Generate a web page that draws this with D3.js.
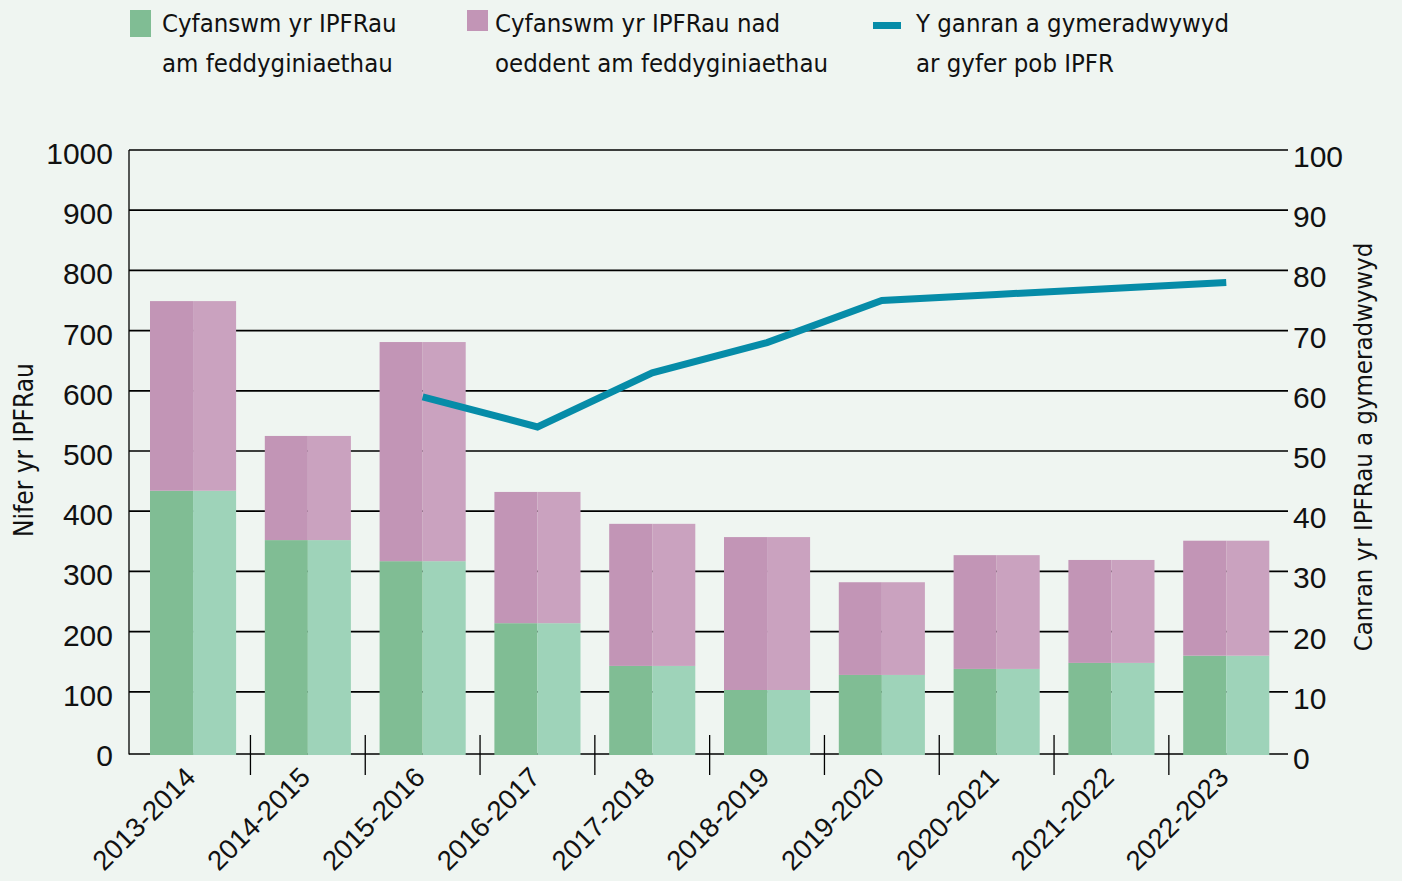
<!DOCTYPE html>
<html>
<head>
<meta charset="utf-8">
<script src="https://cdn.jsdelivr.net/npm/d3@7"></script>
<style>
  html, body { margin: 0; padding: 0; background: #eff5f1; }
  svg { display: block; }
  .txt { font-family: "DejaVu Sans Condensed", "DejaVu Sans", sans-serif; font-stretch: condensed; fill: #111; }
  .num { font-family: "Liberation Sans", Arial, sans-serif; fill: #111; }
</style>
</head>
<body>
<svg id="chart" width="1402" height="881"></svg>
<script>
const categories = ["2013-2014","2014-2015","2015-2016","2016-2017","2017-2018","2018-2019","2019-2020","2020-2021","2021-2022","2022-2023"];
const medicineValues = [434, 352, 317, 214, 143, 103, 128, 138, 148, 160];
const nonMedicineValues = [315, 173, 364, 218, 236, 254, 154, 189, 171, 191];
const approvedPct = [null, null, 59, 54, 63, 68, 75, 76, 77, 78];
const leftTicks = [0,100,200,300,400,500,600,700,800,900,1000];
const rightTicks = [0,10,20,30,40,50,60,70,80,90,100];
const legendLabels = [
  ["Cyfanswm yr IPFRau", "am feddyginiaethau"],
  ["Cyfanswm yr IPFRau nad", "oeddent am feddyginiaethau"],
  ["Y ganran a gymeradwywyd", "ar gyfer pob IPFR"]
];
const leftTitle = "Nifer yr IPFRau";
const rightTitle = "Canran yr IPFRau a gymeradwywyd";

const colors = {
  bg: "#eff5f1",
  greenDark: "#80bd94",
  greenLight: "#9ed3b9",
  pinkDark: "#c295b6",
  pinkLight: "#caa2bf",
  line: "#068ca8"
};

const svg = d3.select("#chart");
svg.append("rect").attr("width", 1402).attr("height", 881).attr("fill", colors.bg);

const plotLeft = 129, plotRight = 1288;
const x = d3.scaleBand().domain(categories).range([135.65, 1283.65]).paddingInner(0.25).paddingOuter(0.125);
const y = d3.scaleLinear().domain([0, 1000]).range([752, 150]);
const yR = d3.scaleLinear().domain([0, 100]).range([752, 150]);
const bw = x.bandwidth();

// gridlines
svg.append("g").selectAll("line").data(leftTicks.filter(d => d > 0)).join("line")
  .attr("x1", plotLeft).attr("x2", plotRight)
  .attr("y1", d => y(d)).attr("y2", d => y(d))
  .attr("stroke", "#000").attr("stroke-width", 1.7);

// baseline
svg.append("line").attr("x1", plotLeft).attr("x2", plotRight)
  .attr("y1", y(0) + 2).attr("y2", y(0) + 2)
  .attr("stroke", "#000").attr("stroke-width", 1.5);

// left axis line
svg.append("line").attr("x1", plotLeft).attr("x2", plotLeft)
  .attr("y1", y(1000)).attr("y2", y(0) + 2.5)
  .attr("stroke", "#000").attr("stroke-width", 1.3);

// bars
const rows = categories.map((c, i) => ({c, g: medicineValues[i], p: nonMedicineValues[i]}));
const bars = svg.append("g");
rows.forEach(r => {
  const x0 = x(r.c);
  const yb = y(0) + 3;
  const yg = y(r.g);
  const yt = y(r.g + r.p);
  bars.append("rect").attr("x", x0).attr("width", bw / 2).attr("y", yg).attr("height", yb - yg).attr("fill", colors.greenDark);
  bars.append("rect").attr("x", x0 + bw / 2).attr("width", bw / 2).attr("y", yg).attr("height", yb - yg).attr("fill", colors.greenLight);
  bars.append("rect").attr("x", x0).attr("width", bw / 2).attr("y", yt).attr("height", yg - yt).attr("fill", colors.pinkDark);
  bars.append("rect").attr("x", x0 + bw / 2).attr("width", bw / 2).attr("y", yt).attr("height", yg - yt).attr("fill", colors.pinkLight);
});

// x ticks between bands
const step = x.step();
const boundaries = categories.slice(1).map(c => x(c) - (step - bw) / 2);
svg.append("g").selectAll("line").data(boundaries).join("line")
  .attr("x1", d => d).attr("x2", d => d)
  .attr("y1", y(0) - 17).attr("y2", y(0) + 23)
  .attr("stroke", "#000").attr("stroke-width", 1.3);

// line
const lineData = categories.map((c, i) => ({c, v: approvedPct[i]})).filter(d => d.v != null);
svg.append("path").datum(lineData)
  .attr("d", d3.line().x(d => x(d.c) + bw / 2).y(d => yR(d.v)))
  .attr("fill", "none").attr("stroke", colors.line).attr("stroke-width", 7)
  .attr("stroke-linejoin", "miter").attr("stroke-linecap", "butt");

// left tick labels
svg.append("g").selectAll("text").data(leftTicks).join("text")
  .attr("class", "num").attr("x", 113).attr("y", d => y(d) + 14)
  .attr("text-anchor", "end").attr("font-size", 30).text(d => d);

// right tick labels
svg.append("g").selectAll("text").data(rightTicks).join("text")
  .attr("class", "num").attr("x", 1293).attr("y", d => yR(d) + 17)
  .attr("text-anchor", "start").attr("font-size", 30).text(d => d);

// x labels
svg.append("g").selectAll("text").data(categories).join("text")
  .attr("class", "num").attr("font-size", 27.5).attr("text-anchor", "end")
  .attr("transform", d => `translate(${x(d) + bw / 2 + 4},${779}) rotate(-45)`)
  .text(d => d);

// axis titles
svg.append("text").attr("class", "txt").attr("font-size", 26).attr("text-anchor", "middle")
  .attr("transform", "translate(33,450) rotate(-90)").text(leftTitle);
svg.append("text").attr("class", "txt").attr("font-size", 25.5).attr("text-anchor", "middle")
  .attr("transform", "translate(1372,447) rotate(-90)").text(rightTitle);

// legend
const lg = svg.append("g");
lg.append("rect").attr("x", 130).attr("y", 10).attr("width", 21).attr("height", 27).attr("fill", colors.greenDark);
lg.append("rect").attr("x", 467).attr("y", 10).attr("width", 21).attr("height", 21).attr("fill", colors.pinkDark);
lg.append("rect").attr("x", 873).attr("y", 22).attr("width", 28).attr("height", 7).attr("fill", colors.line);
const legendX = [162, 495, 916];
legendLabels.forEach((lines, i) => {
  lines.forEach((t, j) => {
    lg.append("text").attr("class", "txt").attr("font-size", 25.5)
      .attr("x", legendX[i]).attr("y", 32 + j * 40).text(t);
  });
});
</script>
</body>
</html>
